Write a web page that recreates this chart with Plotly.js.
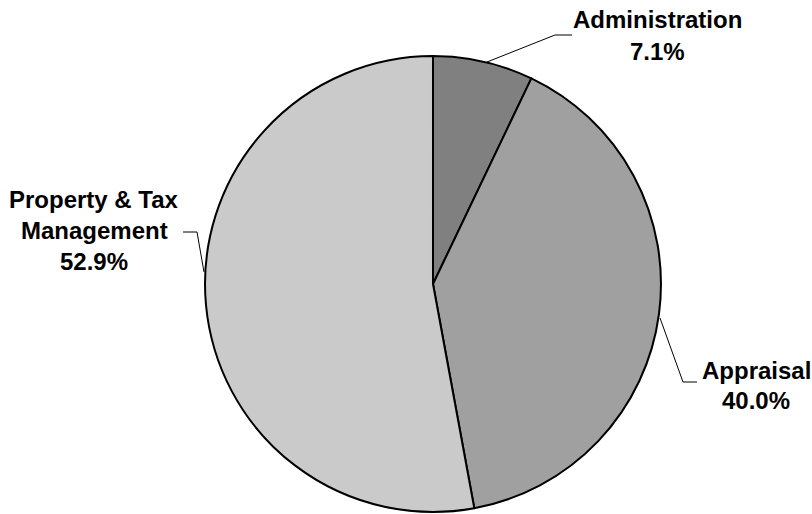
<!DOCTYPE html>
<html>
<head>
<meta charset="utf-8">
<script src="https://cdn.plot.ly/plotly-3.0.1.min.js"></script>
<style>html,body{margin:0;padding:0;background:#fff;}#chart{width:812px;height:514px;}</style>
</head>
<body>
<div id="chart"></div>
<script>
const categories = ["Administration", "Appraisal", "Property & Tax|Management"];
const values = [7.1, 40.0, 52.9];
const percentLabels = ["7.1%", "40.0%", "52.9%"];
const colors = ["#808080", "#a0a0a0", "#cacaca"];

const W = 812, H = 514;
const px = x => x / W;
const py = y => 1 - y / H;

// label block: center x, first line center y, line spacing (pixels)
const labelPos = [[657, 20, 32], [756, 370, 30], [94, 200, 30.5]];
const leaders = [
  [[487, 62], [555, 35], [572, 35]],
  [[660, 318], [683, 382], [697, 382]],
  [[183, 232], [197, 232], [204, 272]]
];

const annotations = [];
categories.forEach((c, i) => {
  const lines = c.split("|").concat([percentLabels[i]]);
  lines.forEach((t, k) => {
    annotations.push({
      text: "<b>" + t + "</b>",
      x: px(labelPos[i][0]), y: py(labelPos[i][1] + k * labelPos[i][2]),
      xref: "paper", yref: "paper", showarrow: false,
      xanchor: "center", yanchor: "middle", align: "center",
      font: {family: "Liberation Sans, Arial, sans-serif", size: 24, color: "#000"}
    });
  });
});

const shapes = leaders.map(pts => ({
  type: "path", xref: "paper", yref: "paper",
  path: pts.map((p, k) => (k ? "L" : "M") + px(p[0]) + "," + py(p[1])).join(" "),
  line: {color: "#000", width: 1}
}));

const data = [{
  type: "pie",
  values: values,
  labels: categories.map(c => c.replace("|", " ")),
  marker: {colors: colors, line: {color: "#000", width: 2}},
  sort: false,
  direction: "clockwise",
  rotation: 0,
  textinfo: "none",
  hoverinfo: "label+percent",
  domain: {x: [0.2525, 0.8140], y: [0.0039, 0.891]}
}];

const layout = {
  width: W, height: H,
  margin: {l: 0, r: 0, t: 0, b: 0},
  paper_bgcolor: "#fff",
  showlegend: false,
  annotations: annotations,
  shapes: shapes
};

Plotly.newPlot("chart", data, layout, {displayModeBar: false, staticPlot: true});
</script>
</body>
</html>
